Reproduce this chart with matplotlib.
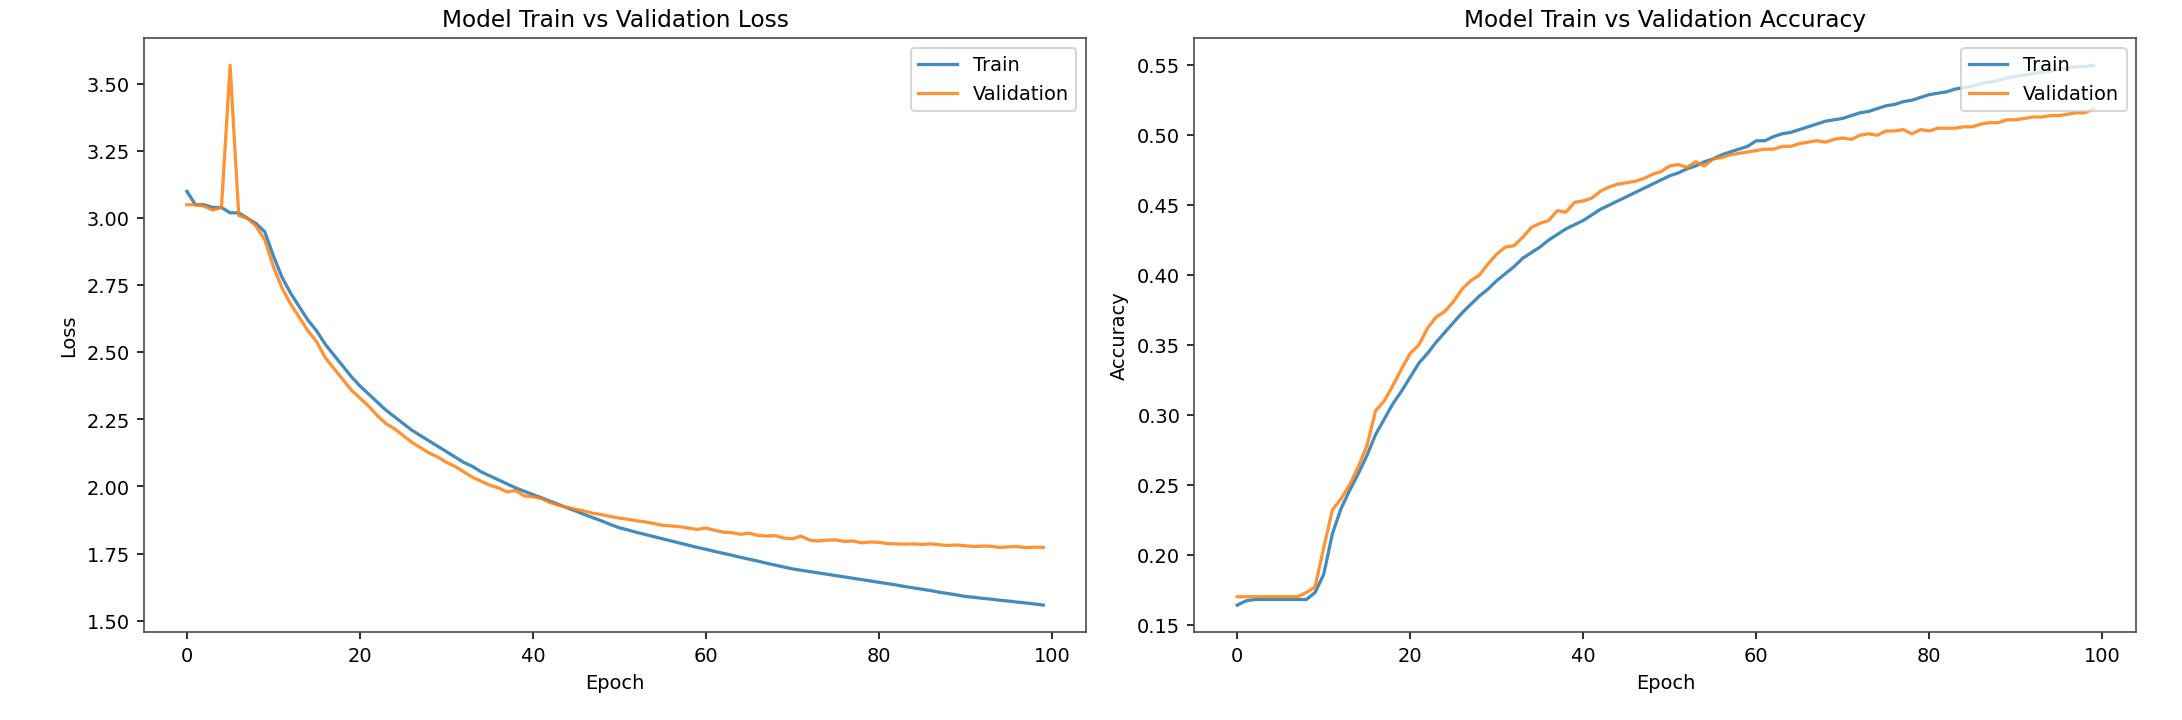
import matplotlib
matplotlib.use("Agg")
import matplotlib.pyplot as plt
import numpy as np

epochs = list(range(100))
train_loss = [3.10,3.05,3.05,3.04,3.04,3.02,3.02,3.00,2.98,2.95,
2.86,2.78,2.72,2.67,2.62,2.58,2.53,2.49,2.45,2.41,
2.375,2.345,2.315,2.285,2.26,2.235,2.21,2.19,2.17,2.15,
2.13,2.11,2.09,2.075,2.055,2.04,2.025,2.01,1.995,1.982,
1.970,1.958,1.945,1.933,1.920,1.908,1.895,1.883,1.871,1.858,
1.846,1.838,1.829,1.821,1.813,1.805,1.797,1.789,1.781,1.773,
1.766,1.758,1.751,1.744,1.736,1.729,1.722,1.714,1.707,1.700,
1.693,1.688,1.683,1.678,1.673,1.668,1.663,1.658,1.653,1.648,
1.643,1.638,1.633,1.627,1.622,1.617,1.612,1.606,1.601,1.596,
1.590,1.587,1.583,1.580,1.576,1.573,1.569,1.566,1.562,1.558]
val_loss = [3.05,3.05,3.045,3.03,3.04,3.57,3.01,3.00,2.97,2.92,
2.82,2.74,2.68,2.63,2.58,2.54,2.48,2.44,2.40,2.36,
2.33,2.30,2.265,2.235,2.215,2.19,2.165,2.145,2.125,2.11,
2.09,2.075,2.055,2.035,2.02,2.005,1.995,1.98,1.985,1.965,
1.962,1.955,1.94,1.93,1.922,1.915,1.908,1.90,1.895,1.888,
1.882,1.878,1.872,1.868,1.862,1.855,1.853,1.850,1.845,1.840,
1.845,1.837,1.830,1.828,1.822,1.826,1.818,1.815,1.817,1.808,
1.805,1.815,1.800,1.797,1.800,1.801,1.795,1.797,1.790,1.793,
1.792,1.787,1.786,1.785,1.786,1.784,1.786,1.783,1.780,1.782,
1.779,1.776,1.778,1.777,1.773,1.775,1.776,1.772,1.774,1.773]
train_acc = [0.164,0.167,0.168,0.168,0.168,0.168,0.168,0.168,0.168,0.173,
0.186,0.215,0.233,0.246,0.258,0.271,0.286,0.297,0.308,0.317,
0.327,0.337,0.344,0.352,0.359,0.366,0.373,0.379,0.385,0.390,
0.396,0.401,0.406,0.412,0.416,0.420,0.425,0.429,0.433,0.436,
0.439,0.443,0.447,0.450,0.453,0.456,0.459,0.462,0.465,0.468,
0.471,0.473,0.476,0.478,0.481,0.483,0.486,0.488,0.490,0.492,
0.496,0.496,0.499,0.501,0.502,0.504,0.506,0.508,0.510,0.511,
0.512,0.514,0.516,0.517,0.519,0.521,0.522,0.524,0.525,0.527,
0.529,0.530,0.531,0.533,0.534,0.535,0.537,0.538,0.539,0.541,
0.542,0.543,0.544,0.545,0.546,0.547,0.548,0.549,0.549,0.550]
val_acc = [0.170,0.170,0.170,0.170,0.170,0.170,0.170,0.170,0.173,0.177,
0.205,0.232,0.240,0.250,0.263,0.278,0.303,0.310,0.321,0.333,
0.344,0.350,0.362,0.370,0.374,0.381,0.390,0.396,0.400,0.408,
0.415,0.420,0.421,0.427,0.434,0.437,0.439,0.446,0.445,0.452,
0.453,0.455,0.460,0.463,0.465,0.466,0.467,0.469,0.472,0.474,
0.478,0.479,0.477,0.481,0.478,0.483,0.484,0.486,0.487,0.488,
0.489,0.490,0.490,0.492,0.492,0.494,0.495,0.496,0.495,0.497,
0.498,0.497,0.500,0.501,0.500,0.503,0.503,0.504,0.501,0.504,
0.503,0.505,0.505,0.505,0.506,0.506,0.508,0.509,0.509,0.511,
0.511,0.512,0.513,0.513,0.514,0.514,0.515,0.516,0.516,0.519]

plt.rcParams['font.size'] = 9.6
fig, (ax1, ax2) = plt.subplots(1, 2, figsize=(15.05, 4.97), dpi=145)
fig.subplots_adjust(left=0.066, right=0.979, bottom=0.122, top=0.946, wspace=0.115)

for ax in (ax1, ax2):
    for s in ax.spines.values():
        s.set_color("#444444")

ax1.plot(epochs, train_loss, label="Train", alpha=0.85, lw=1.6)
ax1.plot(epochs, val_loss, label="Validation", alpha=0.85, lw=1.6)
ax1.set_title("Model Train vs Validation Loss")
ax1.set_xlabel("Epoch")
ax1.set_ylabel("Loss")
ax1.legend(loc="upper right")

ax2.plot(epochs, train_acc, label="Train", alpha=0.85, lw=1.6)
ax2.plot(epochs, val_acc, label="Validation", alpha=0.85, lw=1.6)
ax2.set_title("Model Train vs Validation Accuracy")
ax2.set_xlabel("Epoch")
ax2.set_ylabel("Accuracy")
ax2.legend(loc="upper right")

fig.savefig("out.png")
